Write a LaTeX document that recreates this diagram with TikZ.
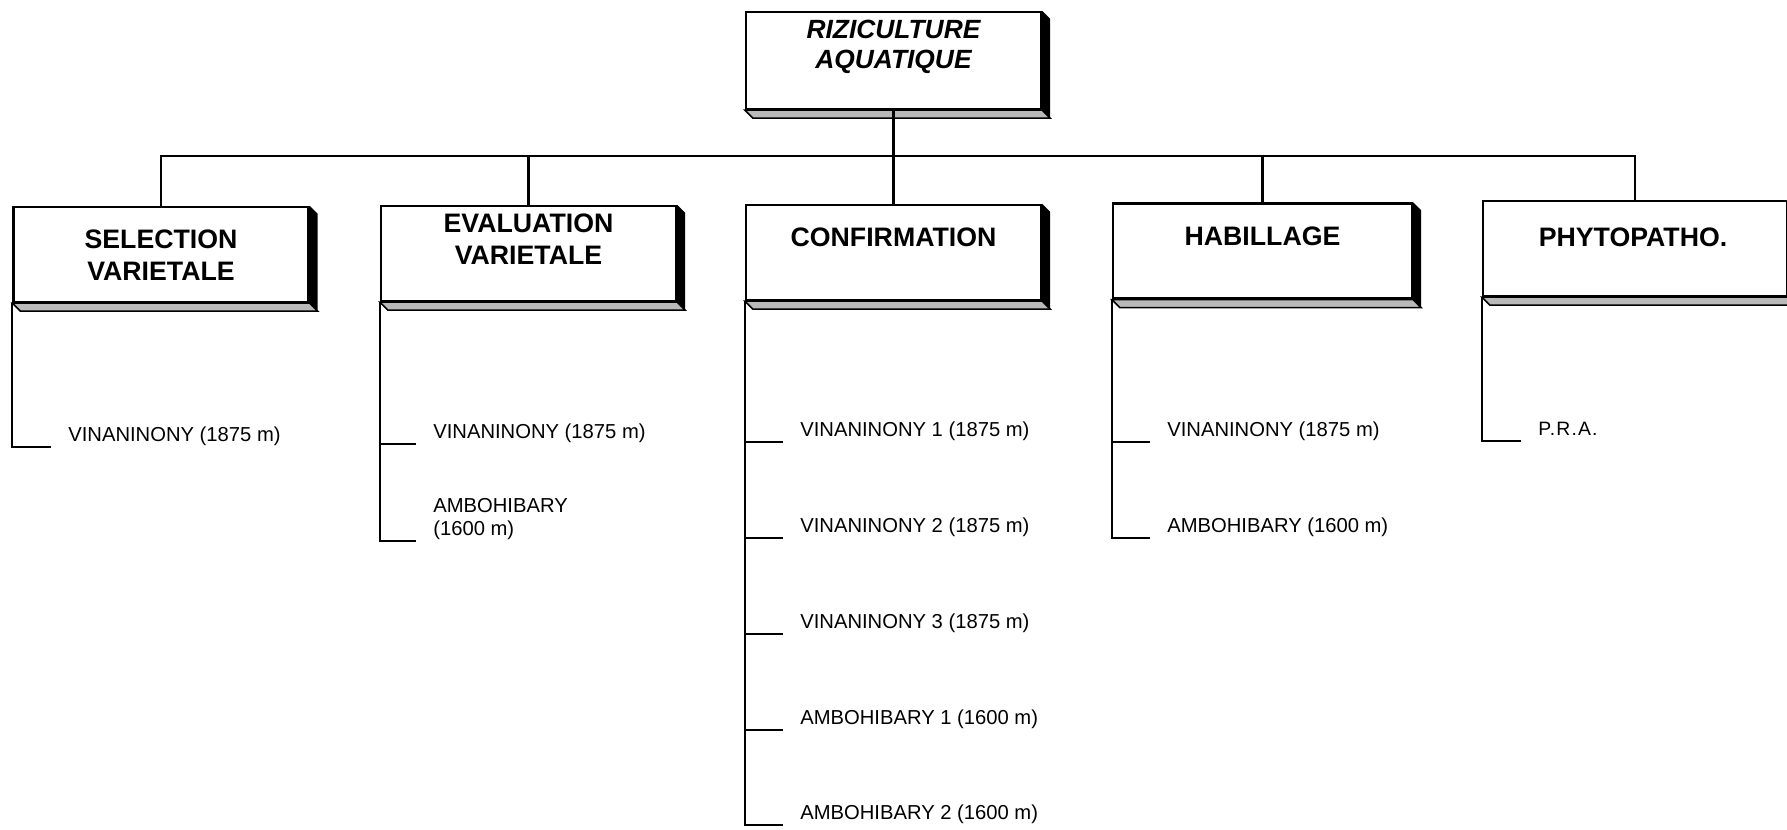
\documentclass[tikz,border=0pt]{standalone}
\usepackage{fontspec}
\setmainfont{Liberation Sans}
\usetikzlibrary{positioning}

\begin{document}
\begin{tikzpicture}[x=0.2mm, y=-0.2mm,
  box/.style={draw=black, line width=1.3pt, fill=white, minimum width=59mm, minimum height=19mm, inner sep=0pt},
  title/.style={font=\fontsize{15.2}{18.5}\selectfont\bfseries, align=center, inner sep=0pt},
  leaf/.style={font=\fontsize{11.5}{13.5}\selectfont, anchor=base west, align=left, inner sep=0pt},
  branch/.style={line width=1.2pt}]

\useasboundingbox (0,0) rectangle (1787,830);

% boxes
\node[box, minimum height=19.4mm] (riz) at (893.5,60.5) {};
\node[box] (sel) at (161,254.5) {};
\node[box] (eva) at (528.5,253.5) {};
\node[box] (con) at (893.5,252.5) {};
\node[box, minimum width=59.8mm] (hab) at (1262.5,251) {};
\node[box, minimum width=60.8mm] (phy) at (1635,248.5) {};

% 3d shadow: black side, grey bottom
\foreach \b in {riz,sel,eva,con,hab,phy} {
  \fill[black] (\b.north east) -- ++(8,8) -- ([shift={(8,8)}]\b.south east) -- (\b.south east) -- cycle;
  \filldraw[fill=gray!55, draw=black, line width=0.9pt] (\b.south west) -- ([shift={(8,8)}]\b.south west) -- ([shift={(8,8)}]\b.south east) -- (\b.south east) -- cycle;
}

% titles
\node[title, font=\fontsize{15}{17.5}\selectfont\bfseries\itshape] (rizT) at (893.5,47) {RIZICULTURE\\AQUATIQUE};
\node[title] (selT) at (161,255) {SELECTION\\VARIETALE};
\node[title] (evaT) at (528.5,239) {EVALUATION\\VARIETALE};
\node[title] (conT) at (893.5,237) {CONFIRMATION};
\node[title] (habT) at (1262.5,236) {HABILLAGE};
\node[title] (phyT) at (1633,237) {PHYTOPATHO.};

% tree
\coordinate (hub) at (893.5,156);
\draw[branch] (riz.south) -- (hub);
\foreach \b in {sel,eva,con,hab,phy}
  \draw[branch] (\b.north) |- (hub);

% sites under each box
\node[leaf] (sel1) at (68,442) {VINANINONY (1875 m)};

\node[leaf] (eva1) at (433,439) {VINANINONY (1875 m)};
\node[leaf] (eva2) at (433,536) {AMBOHIBARY\\(1600 m)};

\foreach \n/\y/\t in {1/437/{VINANINONY 1 (1875 m)}, 2/533/{VINANINONY 2 (1875 m)},
    3/629/{VINANINONY 3 (1875 m)}, 4/725/{AMBOHIBARY 1 (1600 m)}, 5/820/{AMBOHIBARY 2 (1600 m)}}
  \node[leaf] (con\n) at (800,\y) {\t};

\node[leaf] (hab1) at (1167,437) {VINANINONY (1875 m)};
\node[leaf] (hab2) at (1167,533) {AMBOHIBARY (1600 m)};

\node[leaf, font=\fontsize{11}{13}\selectfont\addfontfeature{LetterSpace=6}] (phy1) at (1538,436) {P.R.A.};

\foreach \l in {sel1}
  \draw[branch] (sel.south west) |- ([shift={(-17,5)}]\l.base west);
\foreach \l in {eva1,eva2}
  \draw[branch] (eva.south west) |- ([shift={(-17,5)}]\l.base west);
\foreach \l in {con1,con2,con3,con4,con5}
  \draw[branch] (con.south west) |- ([shift={(-17,5)}]\l.base west);
\foreach \l in {hab1,hab2}
  \draw[branch] (hab.south west) |- ([shift={(-17,5)}]\l.base west);
\foreach \l in {phy1}
  \draw[branch] (phy.south west) |- ([shift={(-17,5)}]\l.base west);
\end{tikzpicture}
\end{document}
